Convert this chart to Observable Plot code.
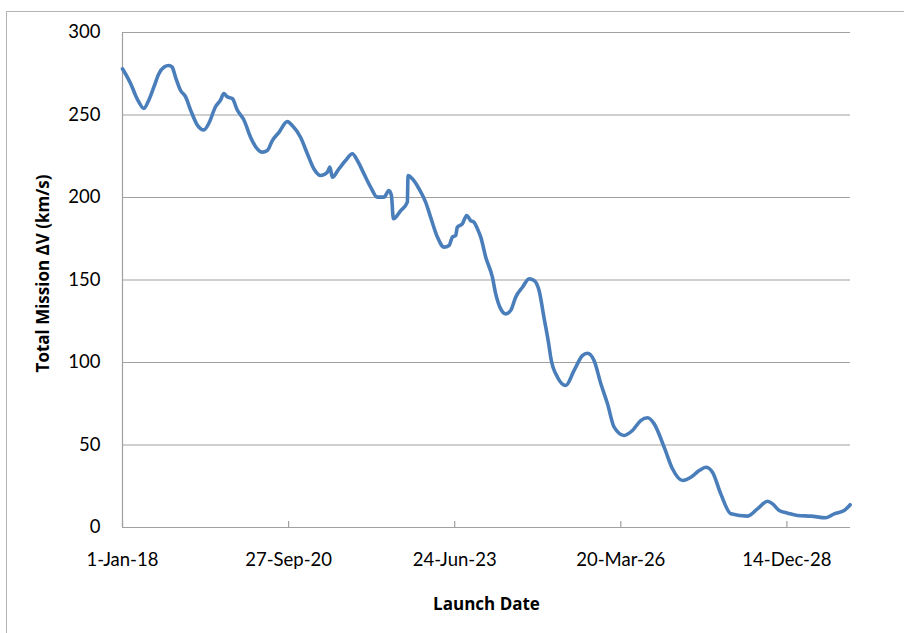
<!DOCTYPE html>
<html>
<head>
<meta charset="utf-8">
<script src="https://cdn.jsdelivr.net/npm/d3@7"></script>
<script src="https://cdn.jsdelivr.net/npm/@observablehq/plot@0.6"></script>
<style>
  html, body { margin: 0; padding: 0; background: #fff; overflow: hidden; }
  #wrap { position: relative; width: 904px; height: 633px; }
  #frame { position: absolute; left: 6px; top: 11px; right: -10px; bottom: -10px;
           border-left: 1.5px solid #b4b4b4; border-top: 1.5px solid #b4b4b4; pointer-events: none; }
  #chart svg { display: block; }
</style>
</head>
<body>
<div id="wrap"><div id="frame"></div><div id="chart"></div></div>
<script>
// Launch day, counted in days after 1 Jan 2018
const launchDay = [
  0, 58, 78, 98, 128, 158, 189, 219, 249, 279, 299, 319, 349, 380, 410, 450, 490, 520, 560, 590,
  610, 631, 661, 691, 731, 771, 811, 842, 872, 902, 942, 992, 1022, 1072, 1113, 1152, 1193, 1233, 1249, 1263,
  1303, 1343, 1384, 1414, 1454, 1494, 1534, 1574, 1604, 1619, 1631, 1675, 1715, 1719, 1745, 1785, 1825, 1855, 1896, 1936,
  1966, 1986, 2006, 2016, 2046, 2072, 2096, 2116, 2137, 2157, 2187, 2227, 2247, 2277, 2307, 2337, 2367, 2408, 2448, 2478,
  2508, 2538, 2568, 2578, 2619, 2669, 2719, 2769, 2799, 2839, 2880, 2920, 2960, 3020, 3070, 3120, 3161, 3201, 3261, 3311,
  3372, 3422, 3472, 3512, 3552, 3602, 3663, 3763, 3823, 3884, 3914, 3954, 4004, 4064, 4145, 4235, 4285, 4345, 4381
];
// Total mission delta-V (km/s) for each launch day
const deltaV = [
  278, 267, 262, 258, 254, 259, 267, 275, 279, 280, 279, 273, 265, 261, 253, 244, 241, 245, 255, 259,
  263, 261, 260, 253, 247, 236.5, 229.5, 227.5, 228.5, 234.5, 239.5, 246, 243.6, 236.5, 226.5, 217.4, 213.3, 215.3, 218.4, 212.3,
  217.4, 222.4, 226.5, 222.4, 214.3, 206.3, 200.2, 200.2, 204.2, 201.2, 187.1, 192.1, 197.2, 213.3, 211.3, 205.3, 197.2, 188.1, 176, 169.9,
  170.9, 176, 177, 182, 184, 189.1, 186, 185, 181, 176, 163.8, 151.7, 141.6, 132.5, 129.5, 131.5, 139.6, 145.6, 150.7, 149.7,
  143.6, 127, 110, 103.2, 91.1, 86.1, 95.2, 104.2, 105.6, 101.2, 87.1, 75, 60.8, 55.8, 58.8, 64.8, 66.5, 62.8, 48.7, 35.6,
  28.5, 30.5, 34.5, 36.5, 33.5, 20.4, 8.3, 6.9, 11.3, 15.9, 14.3, 10.3, 8.7, 7.3, 6.9, 5.9, 8.3, 10.3, 13.8
];
// Axis ticks
const xTickDays = [0, 1000, 2000, 3000, 4000];
const yTicks = [0, 50, 100, 150, 200, 250, 300];

const startDate = new Date(Date.UTC(2018, 0, 1));
const endDate = new Date(Date.UTC(2030, 0, 1));
const xTicks = xTickDays.map(d => d3.utcDay.offset(startDate, d));
const series = launchDay.map((d, i) => ({date: d3.utcDay.offset(startDate, d), dv: deltaV[i]}));
const fmt = d3.utcFormat("%-d-%b-%y");

const gray = "#a0a0a0";
const titleFont = "'Open Sans', Lato, sans-serif";
const chart = Plot.plot({
  width: 904,
  height: 633,
  marginLeft: 122,
  marginRight: 54,
  marginTop: 32,
  marginBottom: 106,
  style: {fontFamily: "Lato, 'Open Sans', sans-serif", fontSize: "18.5px", color: "#000", background: "transparent"},
  x: {type: "utc", domain: [startDate, endDate]},
  y: {domain: [0, 300]},
  marks: [
    Plot.gridY(yTicks, {stroke: gray, strokeOpacity: 1, strokeWidth: 1.2}),
    Plot.ruleX([startDate], {stroke: gray, strokeWidth: 1.2}),
    Plot.ruleY([0], {stroke: gray, strokeWidth: 1.2}),
    Plot.ruleX(xTicks, {y1: 0, y2: 0, insetTop: -6, stroke: gray, strokeWidth: 1.2}),
    Plot.axisY(yTicks, {tickSize: 0, tickPadding: 22, label: null, fontSize: 18.5}),
    Plot.axisX(xTicks, {tickSize: 0, tickPadding: 25, tickFormat: fmt, label: null, fontSize: 18.5}),
    Plot.line(series, {x: "date", y: "dv", stroke: "#4a7ebb", strokeWidth: 3.6, curve: "monotone-x"}),
    Plot.text(["Total Mission ΔV (km/s)"], {frameAnchor: "left", dx: -79, dy: -6.5, rotate: -90, textAnchor: "middle",
      lineAnchor: "middle", fontWeight: "bold", fontSize: 17, fontFamily: titleFont}),
    Plot.text(["Launch Date"], {frameAnchor: "bottom", dy: 77, textAnchor: "middle", lineAnchor: "middle",
      fontWeight: "bold", fontSize: 17, fontFamily: titleFont})
  ]
});
document.getElementById("chart").appendChild(chart);
</script>
</body>
</html>
